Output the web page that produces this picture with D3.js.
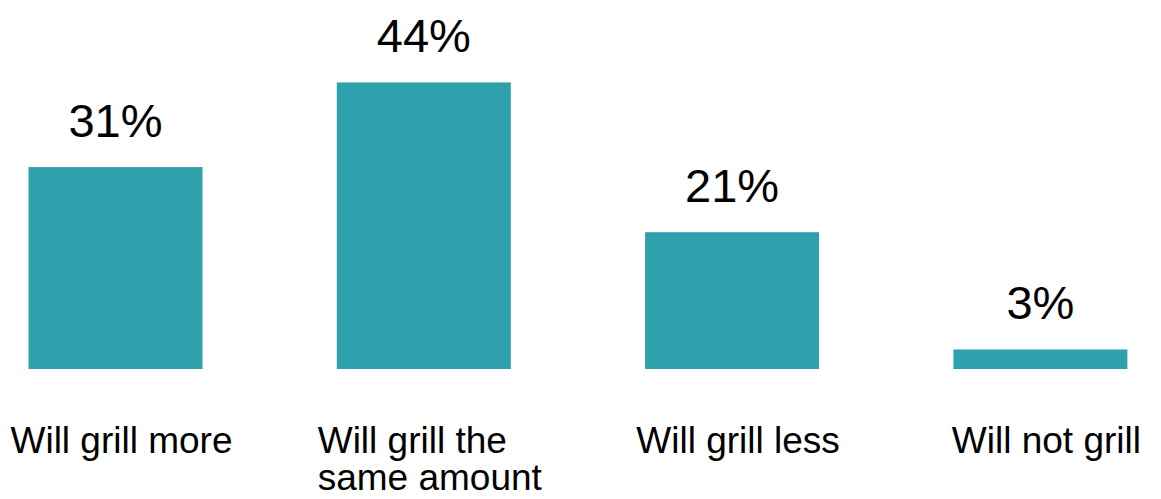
<!DOCTYPE html>
<html>
<head>
<meta charset="utf-8">
<script src="https://cdn.jsdelivr.net/npm/d3@7"></script>
<style>
  html, body { margin: 0; padding: 0; background: #fff; }
  svg { display: block; font-family: 'Liberation Sans', Arial, sans-serif; }
</style>
</head>
<body>
<svg id="chart"></svg>
<script>
// chart data
var categories = [
  ['Will grill more'],
  ['Will grill the', 'same amount'],
  ['Will grill less'],
  ['Will not grill']
]
var values = [31, 44, 21, 3]
var valueLabels = ['31%', '44%', '21%', '3%']

var rows = categories.map(function (c, i) {
  return {name: c.join(' '), lines: c, value: values[i], label: valueLabels[i]}
})

// overall size and the baseline of the bars
var width = 1161
var height = 499
var baseline = 369

var svg = d3.select('#chart')
    .attr('width', width)
    .attr('height', height)

// set the ranges
var x = d3.scaleBand()
    .domain(rows.map(function (d) { return d.name }))
    .range([28.5, 1127.4])
    .paddingInner(0.4356)
    .paddingOuter(0)

var y = d3.scaleLinear()
    .domain([0, 44])
    .range([baseline, 82.4])

// bars
svg.selectAll('.bar')
    .data(rows)
  .enter().append('rect')
    .attr('class', 'bar')
    .attr('fill', '#2ea1ac')
    .attr('x', function (d) { return x(d.name) })
    .attr('width', x.bandwidth())
    .attr('y', function (d) { return y(d.value) })
    .attr('height', function (d) { return y(0) - y(d.value) })

// value labels above the bars
svg.selectAll('.bar-label')
    .data(rows)
  .enter().append('text')
    .attr('class', 'bar-label')
    .attr('x', function (d) { return x(d.name) + x.bandwidth() / 2 })
    .attr('y', function (d) { return y(d.value) - 30 })
    .attr('text-anchor', 'middle')
    .attr('font-size', 47)
    .attr('fill', '#000')
    .text(function (d) { return d.label })

// category labels, left aligned block centred (a bit right) under each bar
var cat = svg.selectAll('.cat-label')
    .data(rows)
  .enter().append('text')
    .attr('class', 'cat-label')
    .attr('font-size', 37)
    .attr('fill', '#000')

cat.each(function (d) {
  var t = d3.select(this)
  d.lines.forEach(function (line, i) {
    t.append('tspan')
        .attr('y', 453 + i * 37)
        .text(line)
  })
  var widest = 0
  t.selectAll('tspan').each(function () {
    widest = Math.max(widest, this.getComputedTextLength())
  })
  var left = x(d.name) + x.bandwidth() / 2 - widest / 2 + 6
  t.selectAll('tspan').attr('x', left)
})
</script>
</body>
</html>
